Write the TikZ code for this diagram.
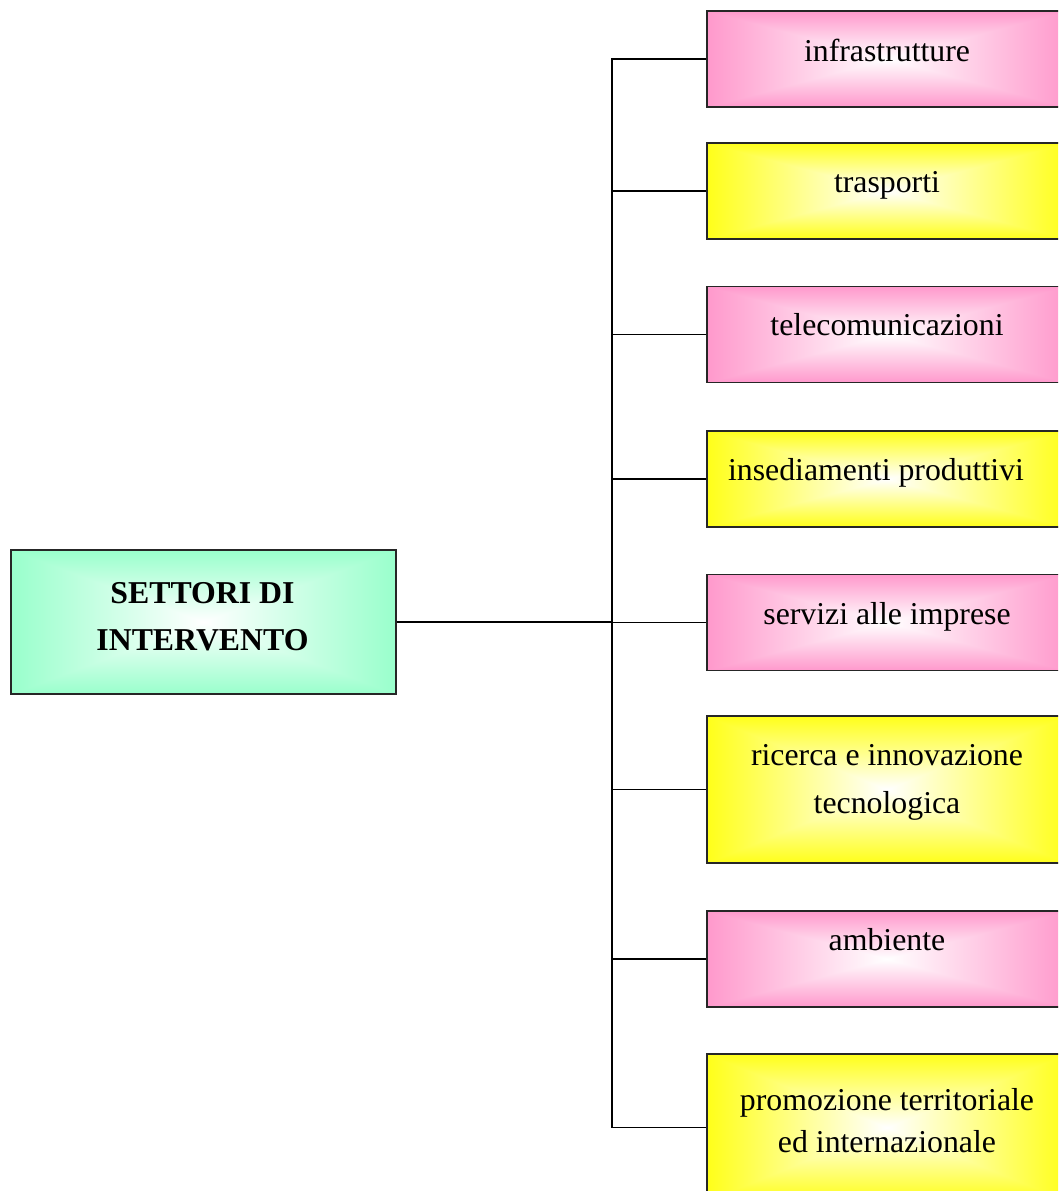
\documentclass[tikz,border=0pt]{standalone}
\usepackage{fontspec}
\setmainfont{Liberation Serif}
% rectangular "from centre" gradient: t = max(|x|,|y|)/25, colour = white -> edge colour
\pgfdeclarefunctionalshading{pinkshade}{\pgfpoint{-50bp}{-50bp}}{\pgfpoint{50bp}{50bp}}{}{
  abs 25 div exch abs 25 div 2 copy lt {exch} if pop
  dup 1 gt {pop 1} if
  dup 0 mul 1 exch sub
  exch dup 0.4 mul 1 exch sub
  exch 0.2 mul 1 exch sub
}
\pgfdeclarefunctionalshading{yellowshade}{\pgfpoint{-50bp}{-50bp}}{\pgfpoint{50bp}{50bp}}{}{
  abs 25 div exch abs 25 div 2 copy lt {exch} if pop
  dup 1 gt {pop 1} if
  dup 0 mul 1 exch sub
  exch dup 0 mul 1 exch sub
  exch 0.9 mul 1 exch sub
}
\pgfdeclarefunctionalshading{greenshade}{\pgfpoint{-50bp}{-50bp}}{\pgfpoint{50bp}{50bp}}{}{
  abs 25 div exch abs 25 div 2 copy lt {exch} if pop
  dup 1 gt {pop 1} if
  dup 0.4 mul 1 exch sub
  exch dup 0 mul 1 exch sub
  exch 0.2 mul 1 exch sub
}
\tikzset{
  boxbase/.style={draw=black!85, line width=1.3pt, shade, inner sep=0pt, minimum width=270pt},
  pinkbox/.style={boxbase, shading=pinkshade, minimum height=72pt},
  yellowbox/.style={boxbase, shading=yellowshade, minimum height=72pt},
  tallyellow/.style={boxbase, shading=yellowshade, minimum height=110.25pt},
  mainbox/.style={draw=black!85, line width=1.3pt, shade, shading=greenshade, inner sep=0pt, minimum width=288.75pt, minimum height=108pt},
  lbl/.style={inner sep=0pt, anchor=base, font=\fontsize{23.85pt}{36pt}\selectfont},
  conn/.style={line width=1.4pt, black}
}
\begin{document}
\begin{tikzpicture}[x=0.75pt, y=-0.75pt]
\useasboundingbox (0,0) rectangle (1058,1191);
\clip (0,0) rectangle (1058,1191);
\fill[white] (0,0) rectangle (1058,1191);

\node[mainbox] (main) at (203.5,622) {};
\node[pinkbox] (b1) at (887,59) {};
\node[yellowbox] (b2) at (887,191) {};
\node[pinkbox] (b3) at (887,334.5) {};
\node[yellowbox] (b4) at (887,479) {};
\node[pinkbox] (b5) at (887,622.5) {};
\node[tallyellow] (b6) at (887,789.5) {};
\node[pinkbox] (b7) at (887,959) {};
\node[tallyellow] (b8) at (887,1127.5) {};

\node[lbl, font=\fontsize{23.85pt}{35.25pt}\selectfont\bfseries] (tm) at (202.5,650) {\begin{tabular}[b]{@{}c@{}}SETTORI DI\\INTERVENTO\end{tabular}};
\node[lbl] (t1) at (887,62) {infrastrutture};
\node[lbl] (t2) at (887,193) {trasporti};
\node[lbl] (t3) at (887,335) {telecomunicazioni};
\node[lbl] (t4) at (876,480) {insediamenti produttivi};
\node[lbl] (t5) at (887,624) {servizi alle imprese};
\node[lbl] (t6) at (887,813) {\begin{tabular}[b]{@{}c@{}}ricerca e innovazione\\tecnologica\end{tabular}};
\node[lbl] (t7) at (887,950) {ambiente};
\node[lbl, font=\fontsize{23.85pt}{31.5pt}\selectfont] (t8) at (887,1152) {\begin{tabular}[b]{@{}c@{}}promozione territoriale\\ed internazionale\end{tabular}};

\coordinate (trunk) at (612,0);
\draw[conn] (b1.west) -- (b1.west -| trunk) -- (b8.west -| trunk) -- (b8.west);
\foreach \b in {b2,b3,b4,b5,b6,b7}{
  \draw[conn] (\b.west) -- (\b.west -| trunk);
}
\draw[conn] (main.east) -- (main.east -| trunk);
\end{tikzpicture}
\end{document}
